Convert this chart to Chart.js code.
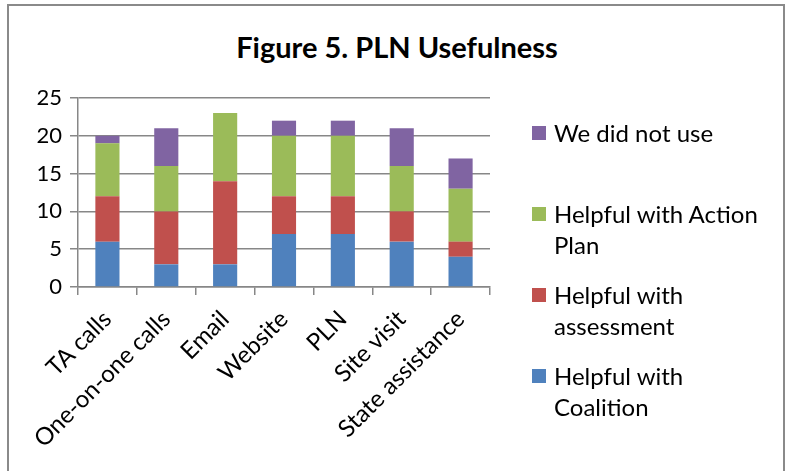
<!DOCTYPE html>
<html>
<head>
<meta charset="utf-8">
<script src="https://cdn.jsdelivr.net/npm/chart.js@4"></script>
<style>
  html,body{ margin:0; padding:0; background:#fff; }
  body{ width:789px; height:471px; position:relative; overflow:hidden; font-family:Lato, 'Open Sans', sans-serif; }
  #frame{ position:absolute; left:7px; top:4px; width:778px; height:490px; border:2px solid #8a8a8a; box-sizing:border-box; }
  #wrap{ position:absolute; left:0; top:0; width:789px; height:471px; }
  #title{ position:absolute; left:0; top:29px; width:794px; text-align:center; font-size:29px; font-weight:bold; line-height:36px; color:#000; }
  #legend{ position:absolute; left:532px; top:117px; width:255px; }
  .item{ position:relative; height:81px; }
  .item i{ position:absolute; left:0; top:9px; width:14px; height:14px; }
  .item span{ position:absolute; left:22px; top:0; font-size:24px; line-height:31px; color:#000; white-space:nowrap; }
</style>
</head>
<body>
<div id="frame"></div>
<div id="title">Figure 5. PLN Usefulness</div>
<div id="wrap"><canvas id="c" width="789" height="471"></canvas></div>
<div id="legend"></div>
<script>
// chart values
const categories = ['TA calls','One-on-one calls','Email','Website','PLN','Site visit','State assistance'];
const coalition  = [6, 3, 3, 7, 7, 6, 4];
const assessment = [6, 7, 11, 5, 5, 4, 2];
const actionPlan = [7, 6, 9, 8, 8, 6, 7];
const didNotUse  = [1, 5, 0, 2, 2, 5, 4];
const yTicks = [0, 5, 10, 15, 20, 25];

const grid = '#878787';
const FONT = 'Lato, "Open Sans", sans-serif';

const series = [
  { label:'Helpful with Coalition', lines:['Helpful with','Coalition'], data:coalition, color:'#4F81BD' },
  { label:'Helpful with assessment', lines:['Helpful with','assessment'], data:assessment, color:'#C0504D' },
  { label:'Helpful with Action Plan', lines:['Helpful with Action','Plan'], data:actionPlan, color:'#9BBB59' },
  { label:'We did not use', lines:['We did not use'], data:didNotUse, color:'#8064A2' }
];

const datasets = series.map(s=>({
  label:s.label, data:s.data, backgroundColor:s.color, borderWidth:0,
  categoryPercentage:1, barPercentage:0.41
}));

new Chart(document.getElementById('c'),{
  type:'bar',
  data:{ labels:categories, datasets },
  options:{
    responsive:false,
    animation:false,
    layout:{ padding:{ left:0, right:299, top:98, bottom:0 } },
    plugins:{
      legend:{ display:false },
      tooltip:{ enabled:false },
      title:{ display:false }
    },
    scales:{
      x:{
        stacked:true,
        grid:{ display:true, drawOnChartArea:false, drawTicks:true, tickLength:8, offset:true, color:grid, lineWidth:1.5 },
        border:{ display:true, color:grid, width:1.5 },
        ticks:{ color:'#000', font:{ family:FONT, size:24 }, minRotation:45, maxRotation:45, padding:10, autoSkip:false },
        afterFit:(s)=>{ s.height = 471 - 287; }
      },
      y:{
        stacked:true, min:0, max:25,
        afterBuildTicks:(s)=>{ s.ticks = yTicks.map(v=>({ value:v })); },
        grid:{ color:grid, lineWidth:1.5, tickLength:8 },
        border:{ display:true, color:grid, width:1.5 },
        ticks:{ color:'#000', font:{ family:FONT, size:22 }, padding:8 },
        afterFit:(s)=>{ s.width = 78; }
      }
    }
  }
});

// legend on the right, top to bottom in reverse series order
const lg = document.getElementById('legend');
series.slice().reverse().forEach(s=>{
  const d = document.createElement('div');
  d.className = 'item';
  d.innerHTML = `<i style="background:${s.color}"></i><span>${s.lines.join('<br>')}</span>`;
  lg.appendChild(d);
});
</script>
</body>
</html>
